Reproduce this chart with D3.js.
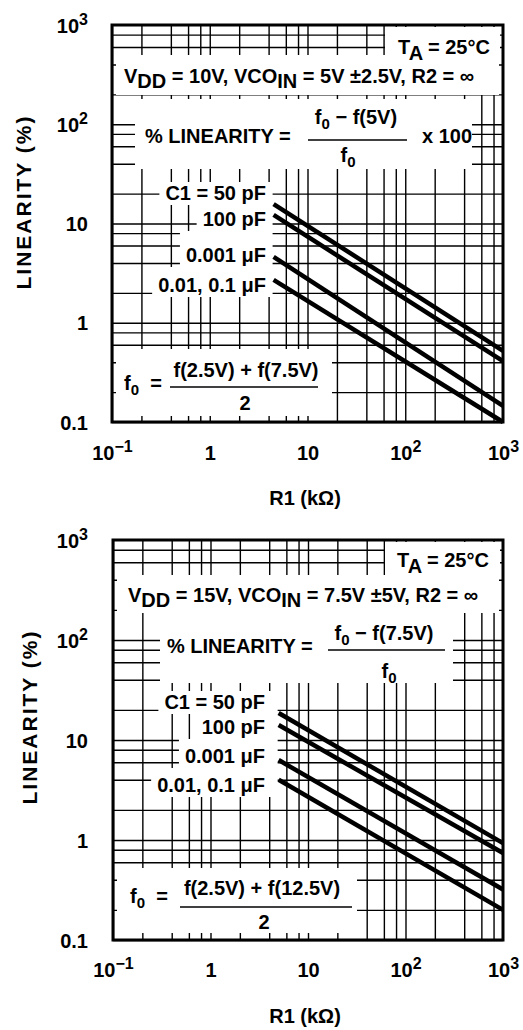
<!DOCTYPE html>
<html>
<head>
<meta charset="utf-8">
<script src="https://cdn.jsdelivr.net/npm/d3@7"></script>
<style>
  body { margin: 0; background: #fff; }
  text { font-family: "Liberation Sans", Arial, Helvetica, sans-serif; font-weight: bold; font-size: 20px; fill: #000; white-space: pre; }
</style>
</head>
<body>
<svg id="chart"></svg>
<script>
// R1 (kOhm) where the curves start and end
var r1Top = [4.5, 1000],
    r1Bottom = [5, 1000];

// linearity (%) at start and end of each curve, C1 = 50pF, 100pF, 0.001uF, 0.01/0.1uF
var linTop = [[15.7, 0.52], [12.2, 0.41], [4.6, 0.145], [2.7, 0.1]],
    linBottom = [[18.6, 0.93], [14.1, 0.74], [6.3, 0.32], [4.0, 0.2]];

var capLabels = ["C1 = 50 pF", "100 pF", "0.001 \u03bcF", "0.01, 0.1 \u03bcF"];

// decade ticks and their labels as [base, exponent]
var decades = [0.1, 1, 10, 100, 1000];
var xTickLabels = [["10", "\u22121"], ["1", ""], ["10", ""], ["10", "2"], ["10", "3"]];
var yTickLabels = [["0.1", ""], ["1", ""], ["10", ""], ["10", "2"], ["10", "3"]];
var gridSteps = [2, 4, 6, 8];

// annotation texts: pieces of [text, shift down, font size]
var condTop = [["V", 0], ["DD", 5], [" = 10V, VCO", 0], ["IN", 5], [" = 5V \u00b12.5V, R2 = \u221e", 0]],
    condBottom = [["V", 0], ["DD", 5], [" = 15V, VCO", 0], ["IN", 5], [" = 7.5V \u00b15V, R2 = \u221e", 0]];
var tempText = [["T", 0], ["A", 6], [" = 25\u00b0C", 0]];
var fZero = [["f", 0], ["0", 5, 15]];
var linNumTop = [["f", 0], ["0", 5, 15], [" \u2212 f(5V)", 0]],
    linNumBottom = [["f", 0], ["0", 5, 15], [" \u2212 f(7.5V)", 0]];
var f0NumTop = "f(2.5V) + f(7.5V)",
    f0NumBottom = "f(2.5V) + f(12.5V)";

var svg = d3.select("#chart").attr("width", 523).attr("height", 1030);

// layout of the two panels
var panels = [
  {x0: 112, x1: 503, y0: 25, y1: 422, r1: r1Top, lin: linTop, cond: condTop,
   tickY: 460, xTitleY: 505, yTitle: [31, 202],
   masks: [[385, 27, 115, 28], [116, 55, 383, 40], [135, 99, 337, 70], [116, 349, 216, 67]],
   temp: [398, 54], condPos: [124, 83],
   linF: {x: 145, y: 143, num: linNumTop, numX: 356, numY: 124, lineX: [308, 407], lineY: 140, denX: 348, denY: 162, times: 422},
   f0: {x: 124, y: 390, num: f0NumTop, numX: 246, numY: 377, lineX: [170, 318], lineY: 387, denX: 245, denY: 410},
   labelX: 266, labelY: [200, 226, 262, 292]},
  {x0: 113, x1: 503, y0: 540, y1: 940, r1: r1Bottom, lin: linBottom, cond: condBottom,
   tickY: 977, xTitleY: 1023, yTitle: [37, 717],
   masks: [[385, 542, 115, 33], [117, 575, 382, 38], [160, 613, 293, 70], [117, 868, 240, 65]],
   temp: [397, 567], condPos: [128, 602],
   linF: {x: 167, y: 653, num: linNumBottom, numX: 384, numY: 640, lineX: [328, 445], lineY: 650, denX: 389, denY: 678},
   f0: {x: 130, y: 903, num: f0NumBottom, numX: 262, numY: 895, lineX: [180, 352], lineY: 907, denX: 264, denY: 929},
   labelX: 265, labelY: [709, 734, 763, 792]}
];

// write pieces into a text element, shifting sub/superscripts
function rich(sel, parts) {
  var cur = 0;
  parts.forEach(function(p) {
    var t = sel.append("tspan").text(p[0]).attr("dy", p[1] - cur);
    if (p[2]) t.style("font-size", p[2] + "px");
    cur = p[1];
  });
  return sel;
}

function power(l) {
  return l[1] ? [[l[0], 0], [l[1], -8, 16]] : [[l[0], 0]];
}

panels.forEach(drawPanel);

function drawPanel(p) {
  var x = d3.scaleLog().domain([0.1, 1000]).range([p.x0, p.x1]),
      y = d3.scaleLog().domain([0.1, 1000]).range([p.y1, p.y0]);

  var gridVals = [];
  decades.slice(0, 4).forEach(function(d) {
    gridVals.push(d);
    gridSteps.forEach(function(s) { gridVals.push(d * s); });
  });

  var g = svg.append("g");

  // grid lines
  var gx = g.append("g").attr("transform", "translate(0," + p.y1 + ")")
      .call(d3.axisBottom(x).tickValues(gridVals).tickSize(-(p.y1 - p.y0)).tickFormat(""));
  var gy = g.append("g").attr("transform", "translate(" + p.x0 + ",0)")
      .call(d3.axisLeft(y).tickValues(gridVals).tickSize(-(p.x1 - p.x0)).tickFormat(""));
  [gx, gy].forEach(function(a) {
    a.select(".domain").remove();
    a.selectAll("line").attr("stroke", "#000").attr("stroke-width", 1.4);
  });

  // white boxes for the annotations
  var maskG = g.append("g");
  p.masks.forEach(function(m) {
    maskG.append("rect").attr("x", m[0]).attr("y", m[1]).attr("width", m[2]).attr("height", m[3]).attr("fill", "#fff");
  });

  // curves
  var line = d3.line().x(function(d) { return x(d[0]); }).y(function(d) { return y(d[1]); });
  p.lin.forEach(function(v) {
    g.append("path")
        .datum(p.r1.map(function(r, i) { return [r, v[i]]; }))
        .attr("d", line)
        .attr("fill", "none")
        .attr("stroke", "#000")
        .attr("stroke-width", 4.5);
  });

  // frame
  g.append("rect").attr("x", p.x0).attr("y", p.y0).attr("width", p.x1 - p.x0).attr("height", p.y1 - p.y0)
      .attr("fill", "none").attr("stroke", "#000").attr("stroke-width", 3);

  // tick labels
  var ax = g.append("g").attr("transform", "translate(0," + p.y1 + ")")
      .call(d3.axisBottom(x).tickValues(decades).tickSize(0));
  ax.select(".domain").remove();
  ax.selectAll("text").attr("y", p.tickY - p.y1).attr("dy", null).text(null)
      .each(function(d, i) { rich(d3.select(this), power(xTickLabels[i])); });

  var ay = g.append("g").attr("transform", "translate(" + p.x0 + ",0)")
      .call(d3.axisLeft(y).tickValues(decades).tickSize(0));
  ay.select(".domain").remove();
  ay.selectAll("text").attr("x", 88 - p.x0).attr("y", 7).attr("dy", null).text(null)
      .each(function(d, i) { rich(d3.select(this), power(yTickLabels[i])); });

  // axis titles
  g.append("text").attr("x", 305).attr("y", p.xTitleY).attr("text-anchor", "middle").text("R1 (k\u03a9)");
  g.append("text").attr("transform", "translate(" + p.yTitle[0] + "," + p.yTitle[1] + ") rotate(-90)")
      .attr("text-anchor", "middle").style("font-size", "21px").style("letter-spacing", "2px")
      .text("LINEARITY (%)");

  // conditions
  rich(g.append("text").attr("x", p.temp[0]).attr("y", p.temp[1]), tempText);
  rich(g.append("text").attr("x", p.condPos[0]).attr("y", p.condPos[1]), p.cond);

  // % linearity formula
  var lf = p.linF;
  g.append("text").attr("x", lf.x).attr("y", lf.y).text("% LINEARITY =");
  rich(g.append("text").attr("x", lf.numX).attr("y", lf.numY).attr("text-anchor", "middle"), lf.num);
  g.append("line").attr("x1", lf.lineX[0]).attr("x2", lf.lineX[1]).attr("y1", lf.lineY).attr("y2", lf.lineY)
      .attr("stroke", "#000").attr("stroke-width", 1.6);
  rich(g.append("text").attr("x", lf.denX).attr("y", lf.denY).attr("text-anchor", "middle"), fZero);
  if (lf.times) g.append("text").attr("x", lf.times).attr("y", lf.y).text("x 100");

  // f0 formula
  var f = p.f0;
  rich(g.append("text").attr("x", f.x).attr("y", f.y), fZero.concat([["  =", 0]]));
  g.append("text").attr("x", f.numX).attr("y", f.numY).attr("text-anchor", "middle").text(f.num);
  g.append("line").attr("x1", f.lineX[0]).attr("x2", f.lineX[1]).attr("y1", f.lineY).attr("y2", f.lineY)
      .attr("stroke", "#000").attr("stroke-width", 1.6);
  g.append("text").attr("x", f.denX).attr("y", f.denY).attr("text-anchor", "middle").text("2");

  // capacitor labels, each on a white box that reaches the curves
  var prevBottom = null,
      curveStart = x(p.r1[0]) - 1;
  capLabels.forEach(function(c, i) {
    var t = g.append("text").attr("x", p.labelX).attr("y", p.labelY[i]).attr("text-anchor", "end").text(c);
    var b = t.node().getBBox();
    var top = prevBottom === null ? p.labelY[i] - 18 : prevBottom,
        bottom = p.labelY[i] + 5;
    maskG.append("rect").attr("x", b.x - 6).attr("y", top).attr("width", curveStart - b.x + 6)
        .attr("height", bottom - top).attr("fill", "#fff");
    prevBottom = bottom;
  });
}
</script>
</body>
</html>
